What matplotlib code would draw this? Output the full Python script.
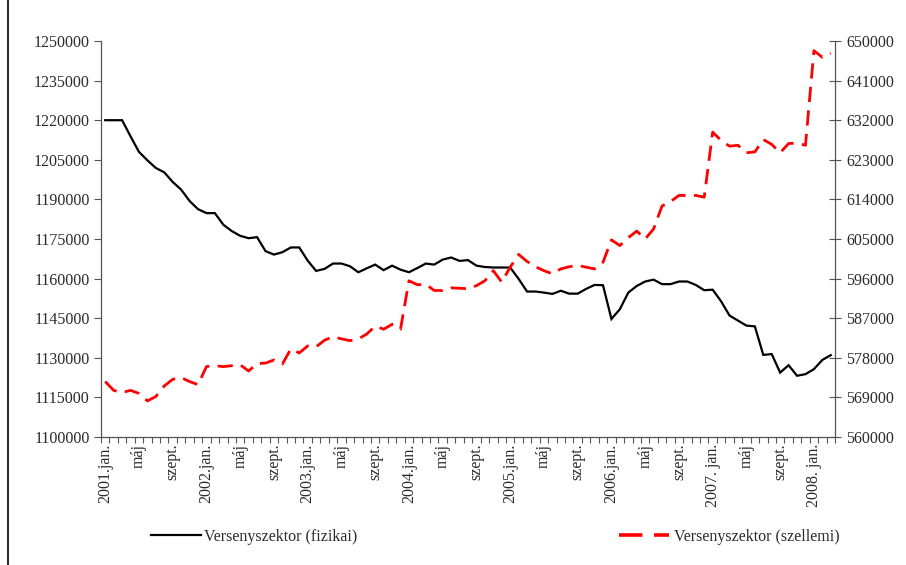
import matplotlib
matplotlib.use("Agg")
import matplotlib.pyplot as plt
from matplotlib.lines import Line2D
import numpy as np

# ---- data -------------------------------------------------------------
n_points = 87  # 2001 jan .. 2008 márc

fizikai = [
    1220000, 1220000, 1220000, 1213900, 1208000, 1204800, 1201900, 1200250, 1196600, 1193700,
    1189400, 1186300, 1184800, 1184800, 1180400, 1178000, 1176200, 1175300, 1175700, 1170400,
    1169100, 1170000, 1171800, 1171800, 1166800, 1162900, 1163700, 1165700, 1165700, 1164700,
    1162400, 1163900, 1165300, 1163200, 1164900, 1163400, 1162400, 1164000, 1165700, 1165300,
    1167200, 1168000, 1166700, 1167000, 1164900, 1164400, 1164200, 1164200, 1164200, 1159900,
    1155100, 1155100, 1154700, 1154200, 1155400, 1154300, 1154300, 1156100, 1157600, 1157500,
    1144700, 1148400, 1154700, 1157200, 1158900, 1159600, 1157900, 1157900, 1158900, 1158900,
    1157600, 1155600, 1155800, 1151400, 1146000, 1144100, 1142200, 1141900, 1131100, 1131400,
    1124400, 1127200, 1123200, 1123800, 1125700, 1129200, 1131000,
]

szellemi = [
    572600, 570600, 570100, 570600, 569900, 568200, 569200, 571600, 573100, 573500,
    572600, 571900, 576000, 576200, 576000, 576200, 576400, 575000, 576700, 576800,
    577500, 576600, 580000, 579100, 580700, 580500, 582000, 582800, 582300, 581900,
    582300, 583400, 585200, 584500, 585600, 584500, 595500, 594600, 594700, 593300,
    593300, 593900, 593800, 593700, 594400, 595500, 597800, 595200, 598600, 601500,
    599900, 598700, 597800, 597100, 598200, 598700, 599000, 598600, 598200, 599700,
    604800, 603500, 605300, 606800, 605000, 607300, 612500, 613500, 614900, 614900,
    614900, 614500, 629300, 627400, 626100, 626300, 624600, 624800, 627600, 626500,
    624600, 626700, 626800, 626300, 647800, 646300, 647200,
]

tick_labels = [
    "2001.jan.", "máj", "szept.", "2002.jan.", "máj", "szept.", "2003.jan.", "máj", "szept.",
    "2004.jan.", "máj", "szept.", "2005.jan.", "máj", "szept.", "2006.jan.", "máj", "szept.",
    "2007. jan.", "máj", "szept.", "2008. jan.",
]
left_ticks = [1100000, 1115000, 1130000, 1145000, 1160000, 1175000, 1190000, 1205000, 1220000, 1235000, 1250000]
right_ticks = [560000, 569000, 578000, 587000, 596000, 605000, 614000, 623000, 632000, 641000, 650000]

series_names = ["Versenyszektor (fizikai)", "Versenyszektor (szellemi)"]

# ---- figure -----------------------------------------------------------
plt.rcParams["font.family"] = ["Liberation Serif", "DejaVu Serif"]
FS = 11.5
TXT = "#2a2a2a"

fig = plt.figure(figsize=(9.06, 5.65), dpi=100)
W, H = 906, 565
ax = fig.add_axes([101 / W, 1 - 437 / H, (835 - 101) / W, (437 - 41) / H])
ax2 = ax.twinx()

x = np.arange(n_points)
l1, = ax.plot(x, fizikai, color="black", lw=1.6, solid_joinstyle="miter")
l2, = ax2.plot(x, szellemi, color="#ff0000", lw=2.0, dashes=(5.5, 3))

ax.set_xlim(-0.5, n_points - 0.5)
ax.set_ylim(1100000, 1250000)
ax2.set_ylim(560000, 650000)

ax.set_yticks(left_ticks)
ax.set_yticklabels([str(v) for v in left_ticks], fontsize=FS, color=TXT)
ax2.set_yticks(right_ticks)
ax2.set_yticklabels([str(v) for v in right_ticks], fontsize=FS, color=TXT)

ax.set_xticks(np.arange(0, n_points, 4))
ax.set_xticklabels(tick_labels, rotation=90, fontsize=FS, color=TXT, va="top")
ax.set_xticks(np.arange(-0.5, n_points, 1), minor=True)
ax.tick_params(axis="x", which="major", length=0, pad=5)
ax.tick_params(axis="x", which="minor", length=4, width=0.8, color="#555555", direction="out")
ax.tick_params(axis="y", which="major", length=5, width=0.8, color="#555555", direction="out", pad=3)
ax2.tick_params(axis="y", which="major", length=8, width=0.8, color="#555555", direction="inout", pad=4)

for a in (ax, ax2):
    a.spines["top"].set_visible(False)
    for s in ("left", "right", "bottom"):
        a.spines[s].set_color("#555555")
        a.spines[s].set_linewidth(0.9)
ax.spines["right"].set_visible(False)
ax2.spines["left"].set_visible(False)
ax2.spines["bottom"].set_visible(False)

# legends
red_handle = Line2D([], [], color="#ff0000", lw=2.6, dashes=(6.5, 3.2))
fig.legend([l1], [series_names[0]], loc="center left", bbox_to_anchor=(137 / W, 1 - 537 / H),
           frameon=False, fontsize=FS, handlelength=3.1, handletextpad=0.2, labelcolor=TXT)
fig.legend([red_handle], [series_names[1]], loc="center left", bbox_to_anchor=(605 / W, 1 - 537 / H),
           frameon=False, fontsize=FS, handlelength=3.1, handletextpad=0.35, labelcolor=TXT)

# outer frame line on the left
fig.add_artist(Line2D([8 / W, 8 / W], [0, 1], transform=fig.transFigure, color="black", lw=1.2))

fig.savefig("out.png", dpi=100)
